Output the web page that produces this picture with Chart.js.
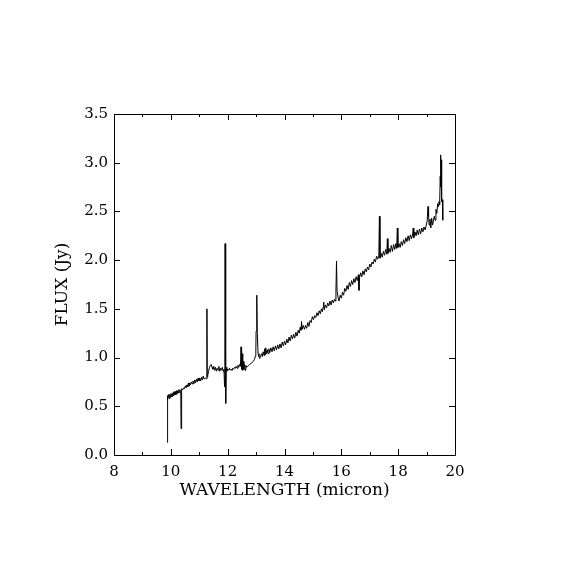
<!DOCTYPE html>
<html>
<head>
<meta charset="utf-8">
<script src="https://cdn.jsdelivr.net/npm/chart.js@4.4.1/dist/chart.umd.min.js"></script>
<style>
  html, body { margin: 0; padding: 0; background: #ffffff; }
  #wrap { width: 570px; height: 570px; }
</style>
</head>
<body>
<div id="wrap"><canvas id="c" width="570" height="570"></canvas></div>
<script>
// Wavelength (micron)
const wavelength = [
  9.870, 9.875, 9.88, 9.89, 9.90, 9.92, 9.94, 9.96, 9.98, 10.00, 10.02, 10.04, 10.06, 10.08, 10.10,
  10.12, 10.14, 10.16, 10.18, 10.20, 10.22, 10.24, 10.26, 10.28, 10.30, 10.32, 10.35, 10.36, 10.37,
  10.39, 10.42, 10.45, 10.48, 10.51, 10.54, 10.57, 10.60, 10.62, 10.64, 10.66, 10.69, 10.72, 10.75,
  10.78, 10.81, 10.84, 10.87, 10.90, 10.93, 10.96, 10.99, 11.02, 11.05, 11.08, 11.11, 11.14, 11.17,
  11.20, 11.23, 11.26, 11.27, 11.28, 11.30, 11.33, 11.36, 11.39, 11.42, 11.45, 11.48, 11.51, 11.54,
  11.57, 11.60, 11.63, 11.66, 11.69, 11.72, 11.75, 11.78, 11.81, 11.84, 11.87, 11.89, 11.90, 11.91,
  11.92, 11.93, 11.94, 11.95, 11.97, 12.00, 12.03, 12.06, 12.09, 12.12, 12.15, 12.18, 12.21, 12.24,
  12.27, 12.30, 12.33, 12.36, 12.39, 12.42, 12.45, 12.47, 12.48, 12.50, 12.51, 12.53, 12.55, 12.57,
  12.59, 12.61, 12.64, 12.67, 12.70, 12.74, 12.78, 12.82, 12.86, 12.90, 12.94, 12.97, 12.99, 13.00,
  13.02, 13.03, 13.04, 13.06, 13.07, 13.10, 13.13, 13.16, 13.19, 13.22, 13.25, 13.28, 13.30, 13.32,
  13.34, 13.36, 13.39, 13.42, 13.45, 13.48, 13.52, 13.56, 13.60, 13.64, 13.68, 13.72, 13.76, 13.80,
  13.84, 13.88, 13.92, 13.96, 14.00, 14.04, 14.08, 14.12, 14.16, 14.20, 14.24, 14.28, 14.32, 14.36,
  14.40, 14.44, 14.48, 14.52, 14.55, 14.58, 14.60, 14.62, 14.66, 14.70, 14.74, 14.78, 14.82, 14.86,
  14.90, 14.94, 14.98, 15.02, 15.06, 15.10, 15.14, 15.18, 15.22, 15.26, 15.30, 15.33, 15.36, 15.38,
  15.40, 15.44, 15.48, 15.52, 15.56, 15.60, 15.64, 15.68, 15.72, 15.76, 15.79, 15.81, 15.83, 15.85,
  15.87, 15.89, 15.92, 15.96, 16.00, 16.04, 16.08, 16.12, 16.16, 16.20, 16.24, 16.28, 16.32, 16.36,
  16.40, 16.44, 16.48, 16.52, 16.56, 16.60, 16.62, 16.64, 16.68, 16.72, 16.76, 16.80, 16.84, 16.88,
  16.92, 16.96, 17.00, 17.04, 17.08, 17.12, 17.16, 17.20, 17.24, 17.28, 17.32, 17.34, 17.36, 17.40,
  17.44, 17.48, 17.52, 17.56, 17.60, 17.62, 17.64, 17.68, 17.72, 17.76, 17.80, 17.84, 17.88, 17.92,
  17.95, 17.97, 17.99, 18.03, 18.07, 18.11, 18.15, 18.19, 18.23, 18.27, 18.31, 18.35, 18.39, 18.43,
  18.47, 18.51, 18.53, 18.55, 18.59, 18.63, 18.67, 18.71, 18.75, 18.79, 18.83, 18.87, 18.91, 18.95,
  18.99, 19.02, 19.05, 19.07, 19.09, 19.12, 19.15, 19.18, 19.21, 19.24, 19.27, 19.30, 19.33, 19.36,
  19.39, 19.42, 19.44, 19.46, 19.48, 19.49, 19.50, 19.51, 19.52, 19.54, 19.56, 19.57
];

// Flux (Jy)
const flux = [
  0.13, 0.56, 0.58, 0.61, 0.57, 0.62, 0.58, 0.62, 0.59, 0.63, 0.60, 0.63, 0.60, 0.64, 0.61,
  0.65, 0.62, 0.65, 0.62, 0.66, 0.63, 0.66, 0.64, 0.67, 0.64, 0.67, 0.65, 0.27, 0.66,
  0.68, 0.67, 0.69, 0.68, 0.71, 0.69, 0.72, 0.70, 0.74, 0.71, 0.74, 0.72, 0.75, 0.73,
  0.76, 0.73, 0.77, 0.74, 0.78, 0.75, 0.79, 0.76, 0.79, 0.76, 0.80, 0.77, 0.81, 0.78,
  0.78, 0.79, 0.78, 1.50, 0.80, 0.82, 0.86, 0.90, 0.92, 0.93, 0.90, 0.88, 0.91, 0.87,
  0.90, 0.86, 0.89, 0.87, 0.91, 0.86, 0.89, 0.87, 0.90, 0.86, 0.88, 0.70, 0.92, 2.17,
  0.60, 1.52, 0.53, 0.90, 0.86, 0.88, 0.87, 0.89, 0.87, 0.88, 0.87, 0.89, 0.88, 0.90,
  0.89, 0.91, 0.89, 0.92, 0.90, 0.93, 0.91, 1.11, 0.93, 0.88, 1.04, 0.87, 0.96, 0.88,
  0.93, 0.87, 0.92, 0.90, 0.91, 0.92, 0.93, 0.94, 0.95, 0.96, 0.98, 1.01, 1.04, 1.27,
  1.27, 1.64, 1.27, 1.27, 1.04, 1.01, 0.99, 1.02, 1.04, 1.01, 1.06, 1.02, 1.09, 1.03,
  1.10, 1.04, 1.08, 1.04, 1.09, 1.05, 1.10, 1.06, 1.11, 1.07, 1.12, 1.08, 1.13, 1.09,
  1.14, 1.10, 1.16, 1.12, 1.17, 1.13, 1.19, 1.15, 1.21, 1.17, 1.23, 1.19, 1.24, 1.20,
  1.26, 1.22, 1.28, 1.25, 1.31, 1.28, 1.37, 1.29, 1.33, 1.29, 1.33, 1.30, 1.36, 1.32,
  1.38, 1.36, 1.42, 1.39, 1.43, 1.41, 1.46, 1.43, 1.48, 1.45, 1.50, 1.47, 1.52, 1.57,
  1.49, 1.54, 1.51, 1.56, 1.53, 1.58, 1.54, 1.59, 1.56, 1.60, 1.58, 1.68, 1.99, 1.68,
  1.68, 1.61, 1.58, 1.64, 1.61, 1.67, 1.64, 1.71, 1.68, 1.74, 1.70, 1.77, 1.73, 1.79,
  1.75, 1.81, 1.77, 1.83, 1.79, 1.85, 1.69, 1.82, 1.87, 1.83, 1.89, 1.85, 1.91, 1.88,
  1.93, 1.90, 1.96, 1.93, 1.98, 1.96, 2.01, 1.98, 2.04, 2.01, 2.05, 2.45, 2.02, 2.07,
  2.03, 2.09, 2.05, 2.11, 2.06, 2.22, 2.07, 2.12, 2.08, 2.15, 2.09, 2.16, 2.11, 2.17,
  2.12, 2.33, 2.13, 2.17, 2.13, 2.19, 2.15, 2.21, 2.17, 2.23, 2.19, 2.25, 2.20, 2.26,
  2.22, 2.27, 2.33, 2.23, 2.29, 2.25, 2.31, 2.26, 2.32, 2.27, 2.33, 2.29, 2.34, 2.31,
  2.36, 2.40, 2.55, 2.45, 2.36, 2.42, 2.33, 2.43, 2.36, 2.40, 2.45, 2.41, 2.52, 2.48,
  2.58, 2.55, 2.60, 2.57, 2.86, 2.75, 3.08, 2.90, 3.03, 2.60, 2.62, 2.41
];

const xTicks = [8, 10, 12, 14, 16, 18, 20];
const yTicks = [0.0, 0.5, 1.0, 1.5, 2.0, 2.5, 3.0, 3.5];
const xMinorTicks = [9, 11, 13, 15, 17, 19];

const points = wavelength.map((w, i) => ({ x: w, y: flux[i] }));

const frameTicks = {
  id: 'frameTicks',
  afterDraw(chart) {
    const { ctx, chartArea: a, scales: { x, y } } = chart;
    ctx.save();
    ctx.strokeStyle = '#000';
    ctx.lineWidth = 1;
    ctx.beginPath();
    ctx.rect(Math.round(a.left) + 0.5, Math.round(a.top) + 0.5,
             Math.round(a.right - a.left), Math.round(a.bottom - a.top));
    const major = 6, minor = 3;
    xTicks.forEach(v => {
      const px = Math.round(x.getPixelForValue(v)) + 0.5;
      ctx.moveTo(px, a.bottom); ctx.lineTo(px, a.bottom - major);
      ctx.moveTo(px, a.top); ctx.lineTo(px, a.top + major);
    });
    xMinorTicks.forEach(v => {
      const px = Math.round(x.getPixelForValue(v)) + 0.5;
      ctx.moveTo(px, a.bottom); ctx.lineTo(px, a.bottom - minor);
      ctx.moveTo(px, a.top); ctx.lineTo(px, a.top + minor);
    });
    yTicks.forEach(v => {
      const py = Math.round(y.getPixelForValue(v)) + 0.5;
      ctx.moveTo(a.left, py); ctx.lineTo(a.left + major, py);
      ctx.moveTo(a.right, py); ctx.lineTo(a.right - major, py);
    });
    ctx.stroke();
    ctx.restore();
  }
};

const tickFont = { family: 'DejaVu Serif', size: 15 };
const titleFont = { family: 'DejaVu Serif', size: 17 };

new Chart(document.getElementById('c'), {
  type: 'scatter',
  data: {
    datasets: [{
      data: points,
      showLine: true,
      borderColor: '#000000',
      borderWidth: 1,
      pointRadius: 0,
      tension: 0,
      fill: false
    }]
  },
  options: {
    responsive: false,
    animation: false,
    devicePixelRatio: 1,
    layout: { padding: { top: 114, right: 115, left: 0, bottom: 0 } },
    plugins: { legend: { display: false }, tooltip: { enabled: false } },
    scales: {
      x: {
        type: 'linear',
        min: 8, max: 20,
        afterFit: s => { s.height = 115; },
        afterBuildTicks: s => { s.ticks = xTicks.map(v => ({ value: v })); },
        grid: { display: false, drawTicks: false },
        border: { display: false },
        ticks: { color: '#000', font: tickFont, padding: 8, maxRotation: 0,
                 callback: v => String(v) },
        title: { display: true, text: 'WAVELENGTH (micron)', color: '#000',
                 font: titleFont, padding: { top: 0, bottom: 69 } }
      },
      y: {
        type: 'linear',
        min: 0, max: 3.5,
        afterFit: s => { s.width = 114; },
        afterBuildTicks: s => { s.ticks = yTicks.map(v => ({ value: v })); },
        grid: { display: false, drawTicks: false },
        border: { display: false },
        ticks: { color: '#000', font: tickFont, padding: 6,
                 callback: v => Number(v).toFixed(1) },
        title: { display: true, text: 'FLUX (Jy)', color: '#000',
                 font: titleFont, padding: { top: 52, bottom: 0 } }
      }
    }
  },
  plugins: [frameTicks]
});
</script>
</body>
</html>
